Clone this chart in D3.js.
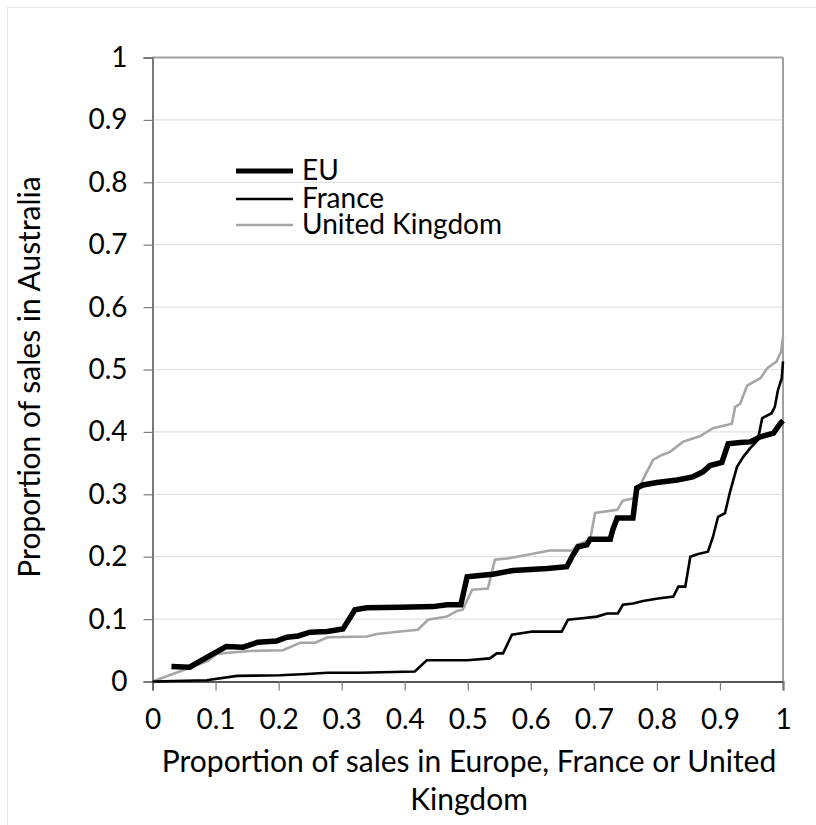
<!DOCTYPE html>
<html><head><meta charset="utf-8">
<script src="https://cdn.jsdelivr.net/npm/d3@7"></script>
<style>body{margin:0;background:#fff;} svg{display:block;}</style>
</head><body>
<script>
// ---- data ----
const xTicks = [0,0.1,0.2,0.3,0.4,0.5,0.6,0.7,0.8,0.9,1];
const yTicks = [0,0.1,0.2,0.3,0.4,0.5,0.6,0.7,0.8,0.9,1];
const tickLabels = ["0","0.1","0.2","0.3","0.4","0.5","0.6","0.7","0.8","0.9","1"];
const seriesNames = ["EU","France","United Kingdom"];

const euX = [0.030,0.059,0.088,0.117,0.144,0.167,0.197,0.213,0.231,0.250,0.277,0.302,0.321,0.340,0.393,0.445,0.467,0.489,0.499,0.519,0.540,0.572,0.626,0.657,0.667,0.675,0.689,0.694,0.726,0.730,0.737,0.762,0.768,0.778,0.800,0.832,0.857,0.873,0.884,0.903,0.908,0.913,0.932,0.948,0.964,0.985,0.996,1.0];
const euY = [0.024,0.023,0.040,0.056,0.055,0.063,0.065,0.071,0.073,0.079,0.080,0.084,0.115,0.118,0.119,0.120,0.123,0.123,0.168,0.170,0.172,0.178,0.181,0.184,0.203,0.216,0.219,0.228,0.228,0.243,0.262,0.262,0.310,0.315,0.319,0.323,0.328,0.336,0.346,0.351,0.366,0.381,0.383,0.384,0.392,0.398,0.414,0.418];

const franceX = [0,0.086,0.134,0.202,0.245,0.277,0.329,0.416,0.435,0.499,0.535,0.546,0.556,0.570,0.603,0.649,0.659,0.678,0.705,0.721,0.738,0.746,0.762,0.778,0.802,0.826,0.834,0.845,0.853,0.864,0.881,0.889,0.897,0.908,0.916,0.927,0.937,0.948,0.960,0.967,0.982,0.987,0.992,0.998,1.0];
const franceY = [0,0.002,0.009,0.010,0.012,0.014,0.014,0.016,0.034,0.034,0.037,0.045,0.045,0.075,0.080,0.080,0.099,0.101,0.104,0.109,0.109,0.123,0.125,0.129,0.133,0.136,0.152,0.152,0.200,0.204,0.208,0.232,0.264,0.270,0.304,0.344,0.360,0.374,0.387,0.422,0.430,0.440,0.467,0.486,0.513];

const ukX = [0,0.059,0.088,0.102,0.120,0.155,0.207,0.234,0.258,0.278,0.340,0.356,0.393,0.421,0.437,0.467,0.483,0.492,0.507,0.532,0.543,0.562,0.599,0.630,0.667,0.673,0.694,0.702,0.737,0.746,0.765,0.778,0.794,0.808,0.821,0.841,0.868,0.889,0.919,0.924,0.932,0.943,0.964,0.975,0.990,0.997,1.0];
const ukY = [0,0.022,0.033,0.044,0.046,0.049,0.050,0.062,0.062,0.071,0.072,0.076,0.080,0.083,0.099,0.104,0.113,0.115,0.147,0.149,0.195,0.197,0.204,0.210,0.210,0.219,0.227,0.270,0.275,0.290,0.294,0.324,0.355,0.363,0.368,0.384,0.393,0.406,0.413,0.440,0.445,0.474,0.486,0.502,0.513,0.529,0.553];

// ---- layout ----
const W = 816, H = 825;
const FONT = "Lato, 'Open Sans', sans-serif";
const svg = d3.select("body").append("svg").attr("width", W).attr("height", H);

svg.append("rect").attr("x",7.5).attr("y",7.5).attr("width",W).attr("height",H)
  .attr("fill","#fff").attr("stroke","#e6e6e6").attr("stroke-width",1);

const x = d3.scaleLinear().domain([0,1]).range([152.5,783]);
const y = d3.scaleLinear().domain([0,1]).range([681.5,57.5]);

// gridlines
svg.append("g").selectAll("line").data(yTicks.slice(1,-1)).join("line")
  .attr("x1",x(0)).attr("x2",x(1)).attr("y1",d=>y(d)).attr("y2",d=>y(d))
  .attr("stroke","#e2e2e2").attr("stroke-width",1.2);

// plot border top/right
svg.append("line").attr("x1",x(0)).attr("x2",x(1)).attr("y1",y(1)).attr("y2",y(1))
  .attr("stroke","#a0a0a0").attr("stroke-width",2);
svg.append("line").attr("x1",x(1)).attr("x2",x(1)).attr("y1",y(1)).attr("y2",y(0))
  .attr("stroke","#a0a0a0").attr("stroke-width",2);

// axes
const yAxis = d3.axisLeft(y).tickValues(yTicks).tickSize(9).tickPadding(16)
  .tickFormat((d,i)=>tickLabels[i]);
const gy = svg.append("g").attr("transform",`translate(${x(0)},0)`).call(yAxis);
gy.select(".domain").attr("stroke","#7a7a7a").attr("stroke-width",2);
gy.selectAll(".tick line").attr("stroke","#7a7a7a").attr("stroke-width",1.2);
gy.selectAll("text").attr("font-family",FONT).attr("font-size",28).attr("fill","#000");

const xAxis = d3.axisBottom(x).tickValues(xTicks).tickSize(9).tickPadding(19)
  .tickFormat((d,i)=>tickLabels[i]);
const gx = svg.append("g").attr("transform",`translate(0,${y(0)})`).call(xAxis);
gx.select(".domain").attr("stroke","#555").attr("stroke-width",2);
gx.selectAll(".tick line").attr("stroke","#7a7a7a").attr("stroke-width",1.2);
gx.selectAll("text").attr("font-family",FONT).attr("font-size",28).attr("fill","#000");

// series
const line = d3.line().x(d=>x(d[0])).y(d=>y(d[1]));
const zip = (a,b)=>a.map((v,i)=>[v,b[i]]);
const series = [
  {name:seriesNames[2], pts:zip(ukX,ukY), color:"#a6a6a6", w:2.6},
  {name:seriesNames[1], pts:zip(franceX,franceY), color:"#000", w:2.6},
  {name:seriesNames[0], pts:zip(euX,euY), color:"#000", w:5.5}
];
svg.append("g").selectAll("path").data(series).join("path")
  .attr("d",d=>line(d.pts)).attr("fill","none")
  .attr("stroke",d=>d.color).attr("stroke-width",d=>d.w)
  .attr("stroke-linejoin","miter");

// legend
const legend = [
  {name:seriesNames[0], color:"#000", w:5, y:171},
  {name:seriesNames[1], color:"#000", w:2.6, y:199},
  {name:seriesNames[2], color:"#a6a6a6", w:2.6, y:225}
];
const lg = svg.append("g");
lg.selectAll("line").data(legend).join("line")
  .attr("x1",236).attr("x2",293).attr("y1",d=>d.y).attr("y2",d=>d.y)
  .attr("stroke",d=>d.color).attr("stroke-width",d=>d.w);
lg.selectAll("text").data(legend).join("text")
  .attr("x",302).attr("y",d=>d.y+9).text(d=>d.name)
  .attr("font-family",FONT).attr("font-size",28).attr("fill","#000");

// axis titles
svg.append("text").attr("x",469).attr("y",772).attr("text-anchor","middle")
  .attr("font-family",FONT).attr("font-size",30).attr("fill","#000")
  .text("Proportion of sales in Europe, France or United");
svg.append("text").attr("x",469).attr("y",810).attr("text-anchor","middle")
  .attr("font-family",FONT).attr("font-size",30).attr("fill","#000")
  .text("Kingdom");
svg.append("text").attr("transform","translate(40,377) rotate(-90)").attr("text-anchor","middle")
  .attr("font-family",FONT).attr("font-size",30).attr("fill","#000")
  .text("Proportion of sales in Australia");
</script>
</body></html>
